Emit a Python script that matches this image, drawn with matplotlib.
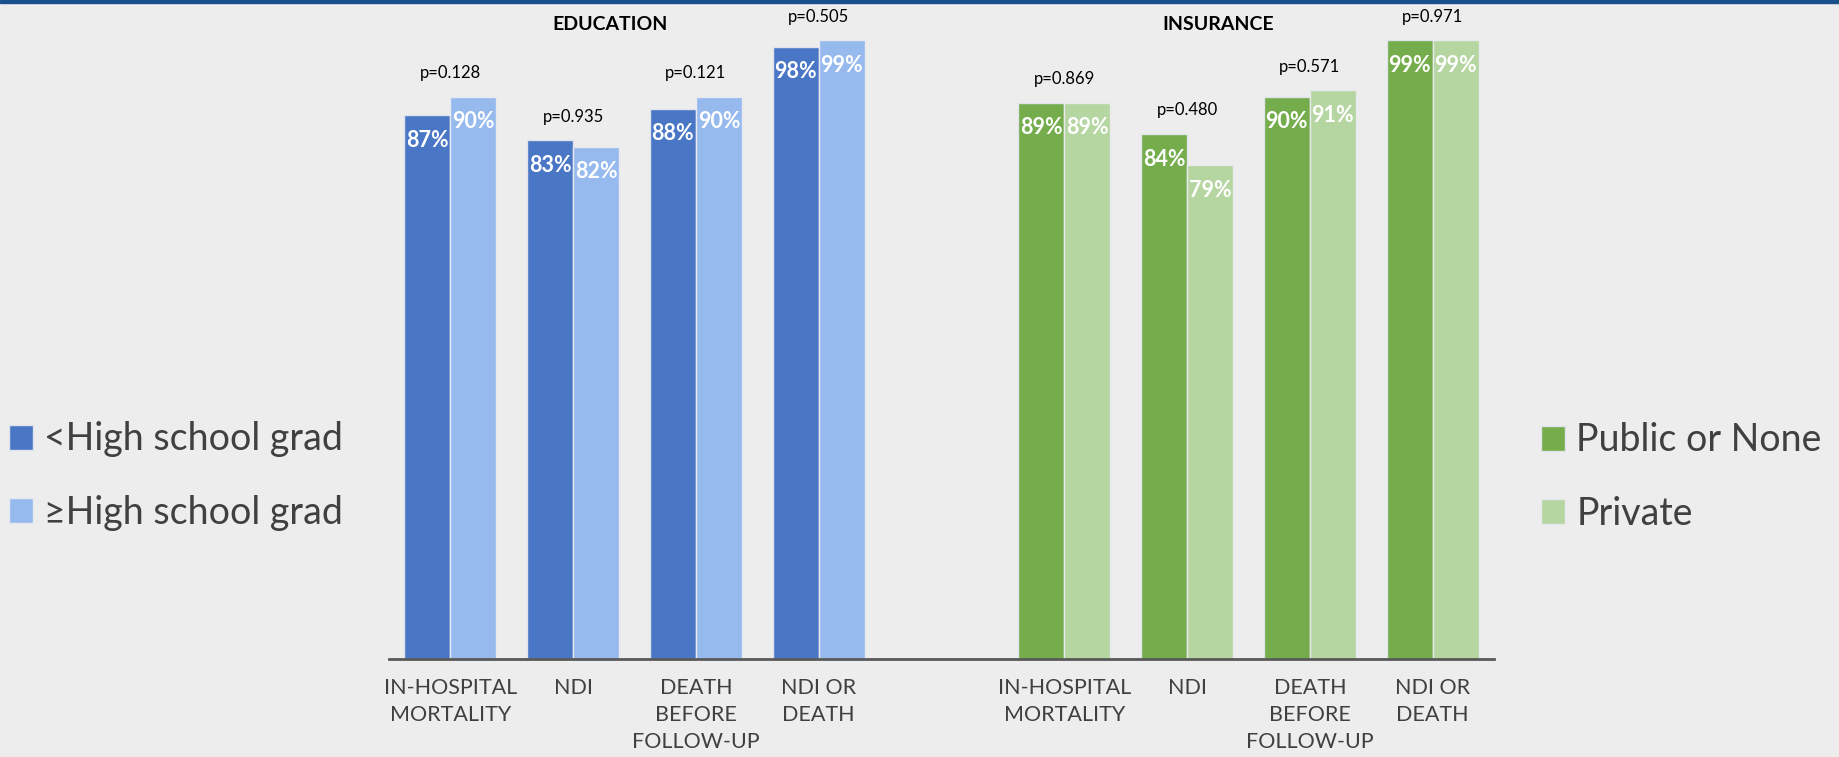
import matplotlib
matplotlib.use('Agg')
import matplotlib.pyplot as plt
from matplotlib.patches import Rectangle
import numpy as np

plt.rcParams['font.family'] = ['Lato', 'DejaVu Sans']

# data
categories = ['IN-HOSPITAL\nMORTALITY', 'NDI', 'DEATH\nBEFORE\nFOLLOW-UP', 'NDI OR\nDEATH']
edu_low = [87, 83, 88, 98]       # <High school grad
edu_high = [90, 82, 90, 99]      # >=High school grad
edu_p = ['0.128', '0.935', '0.121', '0.505']
ins_public = [89, 84, 90, 99]    # Public or None
ins_private = [89, 79, 91, 99]   # Private
ins_p = ['0.869', '0.480', '0.571', '0.971']

BG = '#ededed'
DARK_BLUE, LIGHT_BLUE = '#4a76c6', '#96b9ee'
DARK_GREEN, LIGHT_GREEN = '#75ad4c', '#b5d6a1'
GRAY_TXT = '#404040'

fig = plt.figure(figsize=(18.39, 7.57), dpi=100, facecolor=BG)
ax = fig.add_axes([389 / 1839, 98 / 757, 1105 / 1839, 625 / 757])
ax.set_facecolor(BG)

w = 0.375
edu_x = np.arange(4)
ins_x = np.arange(4) + 5


def draw_group(xs, a, b, ca, cb, pvals):
    bars_a = ax.bar(xs - w / 2, a, w, color=ca, edgecolor='#dfe3ea', linewidth=1)
    bars_b = ax.bar(xs + w / 2, b, w, color=cb, edgecolor='#e8eaee', linewidth=1)
    for bars, vals in ((bars_a, a), (bars_b, b)):
        for r, v in zip(bars, vals):
            ax.annotate(f'{v}%', (r.get_x() + r.get_width() / 2, v),
                        xytext=(0, -18), textcoords='offset points',
                        ha='center', va='center', color='white',
                        fontsize=15.5, fontweight='bold')
    for x, va_, vb_, p in zip(xs, a, b, pvals):
        ax.annotate(f'p={p}', (x, max(va_, vb_)), xytext=(0, 17),
                    textcoords='offset points', ha='center', va='center',
                    fontsize=12, color='black', annotation_clip=False)
    return bars_a, bars_b


edu_bars = draw_group(edu_x, edu_low, edu_high, DARK_BLUE, LIGHT_BLUE, edu_p)
ins_bars = draw_group(ins_x, ins_public, ins_private, DARK_GREEN, LIGHT_GREEN, ins_p)

ax.set_xlim(-0.5, 8.5)
ax.set_ylim(0, 100)
ax.set_xticks(list(edu_x) + list(ins_x))
ax.set_xticklabels(categories + categories, fontsize=15.5, color=GRAY_TXT)
for lbl in ax.get_xticklabels():
    lbl.set_linespacing(1.42)
ax.tick_params(axis='x', length=0, pad=14)
ax.set_yticks([])
for s in ['top', 'left', 'right']:
    ax.spines[s].set_visible(False)
ax.spines['bottom'].set_color('#595959')
ax.spines['bottom'].set_linewidth(2)

# group titles
fig.text(610 / 1839, 1 - 24 / 757, 'EDUCATION', ha='center', va='center',
         fontsize=14, fontweight='bold', color='black')
fig.text(1218 / 1839, 1 - 24 / 757, 'INSURANCE', ha='center', va='center',
         fontsize=14, fontweight='bold', color='black')

# legends
leg_kw = dict(loc='center left', frameon=False, fontsize=27, handlelength=0.65,
              handleheight=0.65, handletextpad=0.3, labelspacing=1.0,
              labelcolor=GRAY_TXT, borderaxespad=0.2)
fig.legend(edu_bars, ['<High school grad', '≥High school grad'],
           bbox_to_anchor=(-14 / 1839, 1 - 476 / 757), **leg_kw)
fig.legend(ins_bars, ['Public or None', 'Private'],
           bbox_to_anchor=(1518 / 1839, 1 - 477 / 757), **leg_kw)

# top rule
fig.add_artist(Rectangle((0, 1 - 3 / 757), 1, 3 / 757, transform=fig.transFigure,
                         color='#19508c', zorder=5))

fig.savefig('out.png', dpi=100, facecolor=BG)
